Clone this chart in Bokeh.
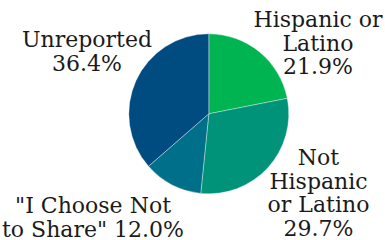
import numpy as np
from bokeh.plotting import figure
from bokeh.models import Range1d, ColumnDataSource
from bokeh.core.properties import value
from bokeh.embed import file_html
from bokeh.resources import INLINE

categories = ["Hispanic or\nLatino", "Not\nHispanic\nor Latino", "\"I Choose Not\nto Share\"", "Unreported"]
percents = [21.9, 29.7, 12.0, 36.4]
colors = ["#00B451", "#00937A", "#00708A", "#004B80"]

# label layout (image pixel coords: centre x, first baseline y)
label_x = [317.5, 318.0, 92.5, 86.5]
label_y = [19.0, 157.0, 205.0, 39.0]
line_gap = 23.7
pct_inline = [False, False, True, False]

W, H = 385, 240
p = figure(width=W, height=H, output_backend="svg", toolbar_location=None,
           x_range=Range1d(0, W), y_range=Range1d(-H, 0),
           min_border=0)
p.axis.visible = False
p.grid.visible = False
p.outline_line_color = None
p.background_fill_color = "white"
p.border_fill_color = "white"

cx, cy, r = 208.3, -113.3, 80
vals = np.array(percents)
frac = vals / vals.sum()
ends = np.pi / 2 - 2 * np.pi * np.cumsum(frac)
starts = np.concatenate([[np.pi / 2], ends[:-1]])
src = ColumnDataSource(dict(start=ends, end=starts, color=colors))
p.wedge(x=cx, y=cy, radius=r, radius_units="screen", start_angle="start", end_angle="end",
        direction="anticlock", fill_color="color", line_color="white", line_width=0.6,
        line_alpha=0.6, source=src)

tx, ty, tt = [], [], []
for cat, pct, x0, y0, inl in zip(categories, percents, label_x, label_y, pct_inline):
    lines = cat.split("\n")
    if inl:
        lines[-1] = lines[-1] + " %.1f%%" % pct
    else:
        lines.append("%.1f%%" % pct)
    for i, ln in enumerate(lines):
        tx.append(x0)
        ty.append(-(y0 + i * line_gap))
        tt.append(ln)

p.text(x=tx, y=ty, text=tt, text_align="center", text_baseline="alphabetic",
       text_font=value("DejaVu Serif"), text_font_size="22px", text_color="#1a1a1a")

open("out.html", "w").write(file_html(p, INLINE))
